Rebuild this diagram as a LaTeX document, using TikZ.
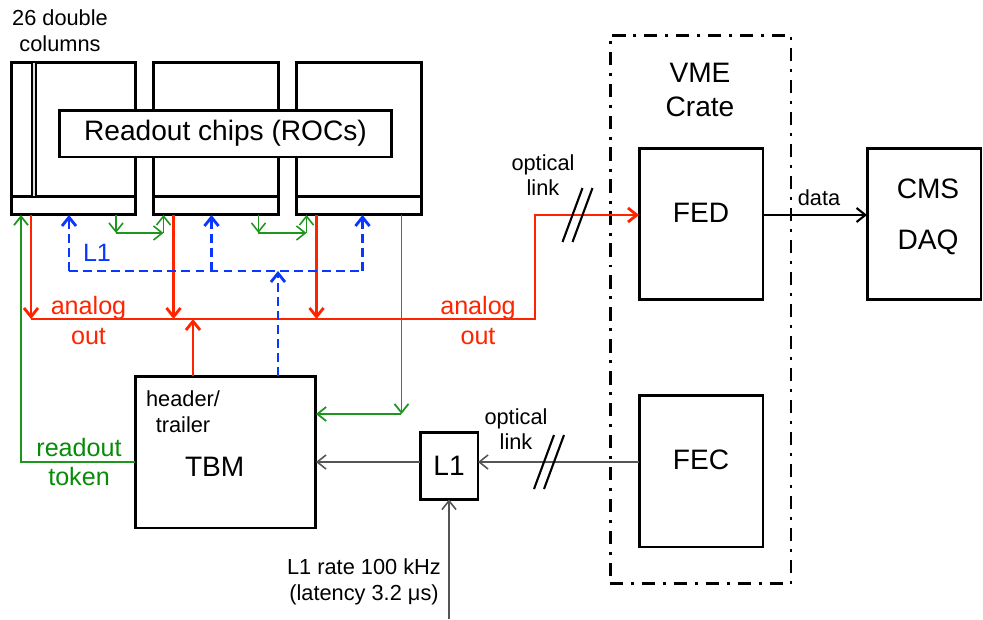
\documentclass[tikz,border=0pt]{standalone}
\usepackage{fontspec}
\setmainfont{Liberation Sans}
\usetikzlibrary{calc,arrows.meta,positioning}

\begin{document}
\begin{tikzpicture}[x=0.02cm, y=-0.02cm,
    >={Straight Barb[length=5pt,width=8pt]},
    every node/.style={font=\fontsize{12.4}{14.6}\selectfont, inner sep=0pt, outer sep=0pt},
    bigtext/.style={font=\fontsize{16}{19.8}\selectfont},
    midtext/.style={font=\fontsize{14.3}{16.6}\selectfont},
    box/.style={draw, line width=1.7pt, fill=white, minimum width=2.48cm, minimum height=3.04cm},
    sig/.style={sigred, line width=1.6pt},
    l1dash/.style={l1blue, line width=1.6pt, dash pattern=on 5pt off 3pt},
    gthin/.style={tokgreen, line width=0.6pt, >={Straight Barb[length=5pt,width=8pt,line width=1pt]}},
    gtok/.style={tokgreen, line width=0.9pt},
    grayline/.style={linegray, line width=0.9pt},
    slash/.style={black, line width=1.2pt},
    crate/.style={draw, line width=1.7pt, dash pattern=on 7.5pt off 4.5pt on 1.7pt off 4.5pt}]
    \definecolor{sigred}{HTML}{FF2400}
    \definecolor{l1blue}{HTML}{0A37FF}
    \definecolor{tokgreen}{HTML}{1E961E}
    \definecolor{txtgreen}{HTML}{078C07}
    \definecolor{linegray}{HTML}{555555}

    \useasboundingbox (0,0) rectangle (983,619);

    % =================== readout chips ===================
    \foreach \i/\cx in {1/73.5, 2/216, 3/359}{
      \node[box, minimum width=2.5cm, minimum height=3.06cm] (roc\i) at (\cx,138.5) {};
      \draw[line width=1.7pt] ([yshift=0.36cm]roc\i.south west) -- ([yshift=0.36cm]roc\i.south east);
    }
    % one double column
    \draw[line width=0.7pt, fill=black!12]
      ([xshift=0.42cm]roc1.north west) rectangle ([xshift=0.5cm,yshift=0.36cm]roc1.south west);
    \node[box, bigtext, minimum width=6.66cm, minimum height=0.94cm] (rocs) at (225.5,133.5) {Readout chips (ROCs)};
    \node[align=center] (dcols) at (60,31) {26 double\\columns};

    % ports at the bottom of each ROC
    \foreach \i/\bx in {1/1.16, 2/1.16, 3/1.32}{
      \coordinate (rout\i) at ([xshift=0.4cm]roc\i.south west);
      \coordinate (gin\i) at ([xshift=0.2cm]roc\i.south west);
      \coordinate (gout\i) at ([xshift=2.1cm]roc\i.south west);
      \coordinate (lin\i) at ([xshift=\bx cm]roc\i.south west);
    }

    % =================== TBM and L1 ===================
    \node[box, minimum width=3.62cm, minimum height=3.04cm] (tbm) at (225.5,452) {};
    \node[align=center] (hdr) at (183,412) {header/\\trailer};
    \node[bigtext] (tbmlab) at (214.7,467) {TBM};
    \node[box, bigtext, minimum width=1.16cm, minimum height=1.34cm] (l1box) at (449,466) {L1};

    % =================== VME crate, DAQ ===================
    \node[crate, minimum width=3.62cm, minimum height=10.98cm] (crate) at (700.5,309.5) {};
    \node[bigtext, align=center] (cratelab) at (700,90) {VME\\Crate};
    \node[box] (fed) at (701,224) {};
    \node[bigtext] (fedlab) at (701,213) {FED};
    \node[box] (fec) at (701,471) {};
    \node[bigtext] (feclab) at (701,460) {FEC};
    \node[box, minimum width=2.28cm] (daq) at (924,224) {};
    \node[font=\fontsize{16}{29}\selectfont, align=center] (daqlab) at (928,217) {CMS\\DAQ};

    % =================== analog out ===================
    \coordinate (bus) at (0,319);
    \coordinate (busE) at (535,319);
    \coordinate (fedin) at ([yshift=0.18cm]fed.west);
    \coordinate (tbmhdr) at ([xshift=1.16cm]tbm.north west);
    \foreach \i in {1,2,3}
      \draw[sig,->] (rout\i) -- (rout\i |- bus);
    \draw[sig,->] (rout1 |- bus) -- (busE) |- (fedin);
    \draw[sig,->] (tbmhdr) -- (tbmhdr |- bus);
    \node[midtext, sigred, align=center] (aoutL) at (88.5,320.5) {analog\\out};
    \node[midtext, sigred, align=center] (aoutR) at (478,320.5) {analog\\out};

    % =================== L1 distribution ===================
    \coordinate (l1bus) at (0,271);
    \coordinate (tbml1) at ([xshift=2.86cm]tbm.north west);
    \draw[l1dash] (lin1 |- l1bus) -- (lin3 |- l1bus);
    \foreach \i in {1,2,3}
      \draw[l1dash,->] (lin\i |- l1bus) -- (lin\i);
    \draw[l1dash,->] (tbml1) -- (tbml1 |- l1bus);
    \node[midtext, l1blue] (l1lab) at (97,253) {L1};

    % =================== readout token ===================
    \coordinate (tbmtok) at ([yshift=-0.2cm]tbm.west);
    \coordinate (tbmret) at ([yshift=0.76cm]tbm.east);
    \draw[gthin,->] (tbmtok) -| (gin1);
    \foreach \a/\b in {1/2, 2/3}{
      \coordinate (tok\a) at ([yshift=-0.36cm]gout\a);
      \draw[gtok,->] (gout\a) -- (tok\a);
      \draw[gtok,->] (tok\a) -- (tok\a -| gin\b);
      \draw[gtok,->] (tok\a -| gin\b) -- (gin\b);
    }
    \draw[gthin,->] (gout3) -- (gout3 |- tbmret);
    \draw[gthin,->] (gout3 |- tbmret) -- (tbmret);
    \node[midtext, txtgreen, align=center] (rtok) at (79,462) {readout\\token};

    % =================== trigger path ===================
    \coordinate (tbmL1) at ([yshift=-0.2cm]tbm.east);
    \coordinate (trig) at (449,619);
    \draw[grayline,->] (l1box.west |- tbmL1) -- (tbmL1);
    \draw[grayline,->] (fec.west |- tbmL1) -- (l1box.east |- tbmL1);
    \draw[grayline,->] (trig) -- (l1box.south);
    \node[align=center] (l1rate) at (364,582) {L1 rate 100 kHz\\(latency 3.2 μs)};

    % data to DAQ
    \draw[line width=1.2pt,->] (fedin -| fed.east) -- (fedin -| daq.west);
    \node (datalab) at (819,198) {data};

    % optical links
    \node[align=center] (optT) at (543,175) {optical\\link};
    \node[align=center] (optB) at (516,429) {optical\\link};
    \coordinate (cutT) at (577.5,215);
    \coordinate (cutB) at (549,462);
    \foreach \c in {cutT,cutB}
      \foreach \s in {-5,5}
        \draw[slash] ($(\c)+(\s,0)+(-10,27)$) -- ($(\c)+(\s,0)+(10,-27)$);
\end{tikzpicture}
\end{document}
